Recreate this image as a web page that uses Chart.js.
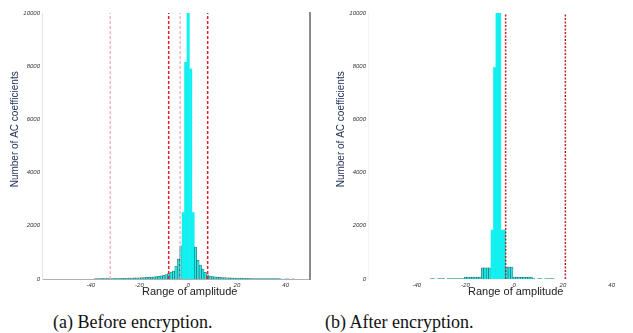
<!DOCTYPE html>
<html>
<head>
<meta charset="utf-8">
<script src="https://cdn.jsdelivr.net/npm/chart.js@4.4.1/dist/chart.umd.min.js"></script>
<style>
  html, body { margin: 0; padding: 0; background: #fff; overflow: hidden; width: 633px; height: 333px; }
  .panel { position: absolute; top: 0; width: 320px; height: 300px; }
  #pa { left: 0; }
  #pb { left: 326px; }
  .cap { position: absolute; top: 312px; font-family: "Liberation Serif", "Times New Roman", serif; font-size: 18px; color: #111; white-space: nowrap; }
</style>
</head>
<body>
<div class="panel" id="pa"><canvas id="ca" width="320" height="300"></canvas></div>
<div class="panel" id="pb"><canvas id="cb" width="320" height="300"></canvas></div>
<div class="cap" id="capA" style="left:53px">(a) Before encryption.</div>
<div class="cap" id="capB" style="left:325px">(b) After encryption.</div>
<script>
// ---- Data ----
const xTicks = [-40, -20, 0, 20, 40];
const yTicks = [0, 2000, 4000, 6000, 8000, 10000];
const xTitle = "Range of amplitude";
const yTitle = "Number of AC coefficients";

// (a) Before encryption: histogram bin centres and counts
const binsA = [-38,-37,-36,-35,-34,-33,-32,-31,-30,-29,-28,-27,-26,-25,-24,-23,-22,-21,-20,-19,-18,-17,-16,-15,-14,-13,-12,-11,-10,-9,-8,-7,-6,-5,-4,-3,-2,-1,0,1,2,3,4,5,6,7,8,9,10,11,12,13,14,15,16,17,18,19,20,21,22,23,24,25,26,27,28,29,30,31,32,33,34,35,36,37,38,40,41,43];
const countsA = [15,20,20,25,20,25,20,20,25,20,25,25,25,30,35,35,40,40,45,50,55,60,65,70,80,90,100,120,140,170,200,260,300,480,750,1250,2500,8150,10600,7900,2500,1200,700,520,370,250,160,110,90,80,70,60,55,50,45,40,40,35,35,30,30,25,25,25,20,20,20,20,20,15,15,15,15,15,15,15,10,10,10,10,10];
const solidLinesA = [-8, 8];     // red dashed thresholds
const faintLinesA = [-32, -3.3]; // light red dashed thresholds

// (b) After encryption
const binsB = [-34,-33,-31,-30,-29,-27,-26,-25,-24,-23,-22,-21,-20,-19,-18,-17,-16,-15,-14,-13,-12,-11,-10,-9,-8,-7,-6,-5,-4,-3,-2,-1,0,1,2,3,4,5,6,7,8,10,11,13,14,15,16];
const countsB = [12,12,12,12,12,12,12,12,12,12,12,12,75,75,75,75,75,75,75,420,420,420,420,1840,7950,10600,10600,1840,1840,450,450,450,75,75,75,75,75,75,75,75,20,12,12,12,12,12,12];
const linesB = [-3.5, 21];

const X_MIN = -60, X_MAX = 50, Y_MAX = 10000;

function histData(bins, counts) { return bins.map((b, i) => ({ x: b, y: counts[i] })); }
function vline(v, color, width, dash) {
  return { type: 'line', data: [{ x: v, y: 0 }, { x: v, y: Y_MAX }], borderColor: color, borderWidth: width,
           borderDash: dash, pointRadius: 0, fill: false, order: 0 };
}
const tickFont = { family: 'Liberation Sans', size: 6, style: 'italic' };

function makeChart(id, bins, counts, lines, showFrame) {
  const datasets = [{
    type: 'bar', data: histData(bins, counts), backgroundColor: '#12f0f0',
    borderColor: 'rgba(10,60,60,0.7)',
    borderWidth: c => (c.raw && c.raw.y > 1500 ? 0 : 0.7), borderSkipped: 'bottom',
    categoryPercentage: 1, barPercentage: 1, order: 1
  }].concat(lines);
  const scales = {
    x: {
      type: 'linear', min: X_MIN, max: X_MAX, offset: false,
      afterBuildTicks: s => { s.ticks = xTicks.map(v => ({ value: v })); },
      afterFit: s => { s.height = 21; },
      grid: { display: false, drawTicks: false, offset: false },
      border: { display: showFrame, color: '#b0b0b0', width: 1 },
      ticks: { font: tickFont, color: '#333', padding: 3, maxRotation: 0, callback: v => String(v) },
      title: { display: true, text: '\u00a0'.repeat(9) + xTitle, font: { family: 'Liberation Sans', size: 11 }, color: '#222', padding: { top: 0, bottom: 1 } }
    },
    y: {
      type: 'linear', min: 0, max: Y_MAX,
      afterBuildTicks: s => { s.ticks = yTicks.map(v => ({ value: v })); },
      afterFit: s => { s.width = 42; },
      grid: { display: false, drawTicks: false },
      border: { display: true, color: showFrame ? '#e4e4e4' : '#f4f4f4', width: 1 },
      ticks: { font: tickFont, color: '#333', padding: 2, callback: v => String(v) },
      title: { display: true, text: '\u00a0'.repeat(12) + yTitle, font: { family: 'Liberation Sans', size: 10 }, color: '#1d2d55', padding: { top: 9, bottom: 9 } }
    }
  };
  if (showFrame) {
    scales.y2 = {
      type: 'linear', position: 'right', min: 0, max: Y_MAX,
      afterFit: s => { s.width = 10; },
      grid: { display: false, drawTicks: false },
      border: { display: true, color: '#8a8a8a', width: 2 },
      ticks: { display: false }
    };
  }
  return new Chart(document.getElementById(id), {
    type: 'bar',
    data: { datasets },
    options: {
      responsive: false, animation: false, devicePixelRatio: 1,
      layout: { padding: { top: 13, right: showFrame ? 0 : 10, left: 0, bottom: 0 } },
      plugins: { legend: { display: false }, tooltip: { enabled: false } },
      scales
    }
  });
}

makeChart('ca', binsA, countsA,
  solidLinesA.map(v => vline(v, '#e61e28', 1.5, [3, 2]))
    .concat(faintLinesA.map(v => vline(v, '#f6a6a6', 1.2, [3, 2]))), true);
makeChart('cb', binsB, countsB,
  linesB.map(v => vline(v, '#b8262e', 1.5, [2, 1.5])), false);
</script>
</body>
</html>
